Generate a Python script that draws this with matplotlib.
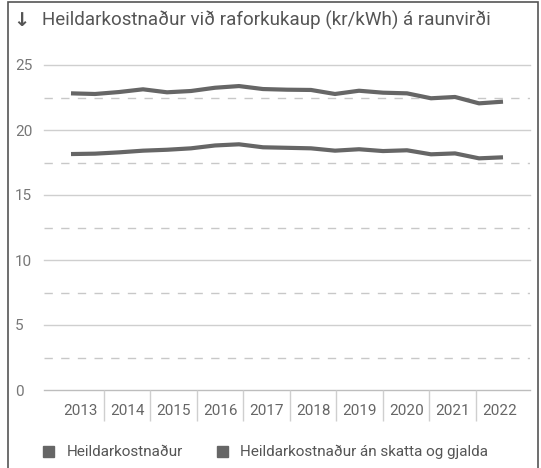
import matplotlib
matplotlib.use("Agg")
from matplotlib import pyplot as plt
from matplotlib.patches import Rectangle
import numpy as np

plt.rcParams['font.family'] = ['Roboto', 'DejaVu Sans']

# half-yearly observations, 2013 H1 .. 2022 H1
years = list(range(2013, 2023))
heild = [22.82, 22.77, 22.92, 23.13, 22.90, 23.00, 23.25, 23.38, 23.15, 23.10,
         23.08, 22.77, 23.02, 22.87, 22.82, 22.44, 22.54, 22.05, 22.18]
an_skatta = [18.15, 18.18, 18.28, 18.41, 18.48, 18.59, 18.81, 18.90, 18.67, 18.63,
             18.59, 18.41, 18.52, 18.38, 18.44, 18.13, 18.20, 17.82, 17.90]
series_names = ['Heildarkostnaður', 'Heildarkostnaður án skatta og gjalda']
title = 'Heildarkostnaður við raforkukaup (kr/kWh) á raunvirði'

W, H = 541, 468
fig = plt.figure(figsize=(W / 100, H / 100), dpi=100)

def fx(px):
    return px / W

def fy(py):
    return 1 - py / H

# outer frame
fig.add_artist(Rectangle((fx(8), fy(H + 10)), fx(530), fy(2.5) - fy(H + 10),
                         transform=fig.transFigure, fill=False,
                         edgecolor='#555555', linewidth=1.2))

ax = fig.add_axes([fx(44), fy(390), fx(486), fy(65) - fy(390)])
x0 = 2013 - (57.5 - 44) / 46.5
x1 = 2013 + (530 - 57.5) / 46.5
ax.set_xlim(x0, x1)
ax.set_ylim(0, 25)

for v in np.arange(0, 26, 5):
    ax.axhline(v, color='#cfcfcf' if v else '#bdbdbd', lw=1, zorder=1, clip_on=False)
for v in np.arange(2.5, 25, 5):
    ax.axhline(v, color='#c8c8c8', lw=1, ls=(0, (6, 6)), zorder=1)

step = 24 / 46.5
t = 2013 + (71 - 57.5) / 46.5 + step * np.arange(len(heild))
for vals in (heild, an_skatta):
    ax.plot(t, vals, color='#666666', lw=3, solid_capstyle='butt',
            solid_joinstyle='round', zorder=3, clip_on=False)

for s in ax.spines.values():
    s.set_visible(False)

ax.set_xticks([y + 0.5 for y in years])
ax.set_xticklabels([str(y) for y in years])
ax.set_xticks(years[1:], minor=True)
ax.tick_params(axis='x', which='major', length=0, pad=10, labelsize=11,
               labelcolor='#666666')
ax.tick_params(axis='x', which='minor', length=22, width=1, color='#cfcfcf',
               direction='out')
ax.set_yticks(np.arange(0, 26, 5))
ax.set_yticklabels([str(v) for v in range(0, 26, 5)])
ax.tick_params(axis='y', length=0, labelsize=11, labelcolor='#777777', pad=0)
for lab in ax.get_yticklabels():
    lab.set_horizontalalignment('left')
    lab.set_x(fx(15) / fx(486) - fx(44) / fx(486))

fig.text(fx(13), fy(20), '\u2193', fontsize=14, color='#555555', va='center',
         fontweight='bold', family=['DejaVu Sans'])
fig.text(fx(42), fy(20), title, fontsize=13.5, color='#555555', va='center')

# legend
for sx, tx, name in [(43, 67, series_names[0]), (217, 240, series_names[1])]:
    fig.add_artist(Rectangle((fx(sx), fy(457)), fx(11), fy(446) - fy(457),
                             transform=fig.transFigure, color='#666666'))
    fig.text(fx(tx), fy(452), name, fontsize=11, color='#555555', va='center')

fig.savefig('out.png', dpi=100)
